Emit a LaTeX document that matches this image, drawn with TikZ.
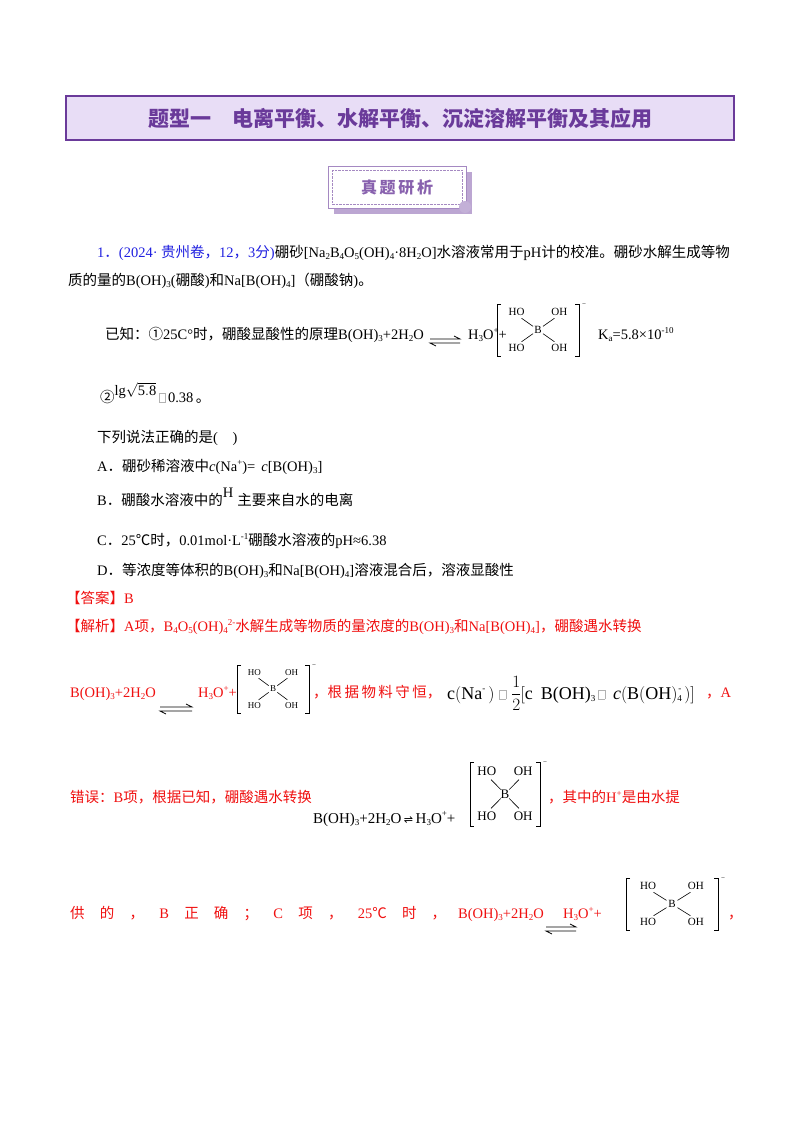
\documentclass[tikz,border=0pt]{standalone}
\usepackage{fontspec}
\setmainfont{Liberation Serif}
\newfontfamily\cjk{Noto Sans CJK SC}
\newfontfamily\latinf{Liberation Serif}
\newfontfamily\dejavu{DejaVu Sans}
\XeTeXinterchartokenstate=1
\newXeTeXintercharclass\cjkclass
\count255="4E00 \loop \XeTeXcharclass\count255=\cjkclass \advance\count255 1 \ifnum\count255<"A000 \repeat
\count255="3000 \loop \XeTeXcharclass\count255=\cjkclass \advance\count255 1 \ifnum\count255<"3040 \repeat
\count255="FF00 \loop \XeTeXcharclass\count255=\cjkclass \advance\count255 1 \ifnum\count255<"FF60 \repeat
\count255="2460 \loop \XeTeXcharclass\count255=\cjkclass \advance\count255 1 \ifnum\count255<"2474 \repeat
\XeTeXcharclass"2103=\cjkclass
\XeTeXinterchartoks 0 \cjkclass={\cjk}
\XeTeXinterchartoks 4095 \cjkclass={\cjk}
\XeTeXinterchartoks \cjkclass 0={\latinf}
\XeTeXinterchartoks \cjkclass 4095={\latinf}
\definecolor{ttl}{HTML}{6A3A9A}
\definecolor{ttlbg}{HTML}{E8DDF6}
\definecolor{blu}{HTML}{2020E0}
\definecolor{rd}{HTML}{F01010}
\newcommand\sbs[1]{\raisebox{-0.35ex}{\fontsize{9}{9}\selectfont #1}}
\newcommand\sps[1]{\raisebox{0.9ex}{\fontsize{9}{9}\selectfont #1}}
\newcommand\gbox{{\color{gray!60}\setlength{\fboxsep}{0pt}\setlength{\fboxrule}{0.4pt}\fbox{\rule{0pt}{9pt}\hspace{6pt}}}}
\newcommand\eqarr[3]{\draw[line width=0.7pt] (#1,#2-2)--(#1+#3,#2-2)--(#1+#3-6,#2-5);
 \draw[line width=0.7pt] (#1+#3,#2+2)--(#1,#2+2)--(#1+6,#2+5);}
\newcommand\borate[5]{\begin{scope}[shift={(#1,#2)},every node/.style={font=\fontsize{#5}{#5}\selectfont,inner sep=0pt,text=black}]
 \pgfmathsetmacro\bw{#3/2}\pgfmathsetmacro\bh{#4/2}
 \draw[line width=0.7pt] (-\bw+4,-\bh)--(-\bw,-\bh)--(-\bw,\bh)--(-\bw+4,\bh);
 \draw[line width=0.7pt] (\bw-4,-\bh)--(\bw,-\bh)--(\bw,\bh)--(\bw-4,\bh);
 \node at (-\bw*0.52,-\bh*0.7) {HO};
 \node at (\bw*0.52,-\bh*0.7) {OH};
 \node at (-\bw*0.52,\bh*0.7) {HO};
 \node at (\bw*0.52,\bh*0.7) {OH};
 \node at (0,0) {B};
 \node at (\bw+5,-\bh+1) {\fontsize{7}{7}\selectfont −};
 \draw[line width=0.6pt] (-\bw*0.4,-\bh*0.45)--(-\bw*0.12,-\bh*0.14);
 \draw[line width=0.6pt] (\bw*0.4,-\bh*0.45)--(\bw*0.12,-\bh*0.14);
 \draw[line width=0.6pt] (-\bw*0.4,\bh*0.45)--(-\bw*0.12,\bh*0.14);
 \draw[line width=0.6pt] (\bw*0.4,\bh*0.45)--(\bw*0.12,\bh*0.14);
\end{scope}}
\tikzset{txt/.style={anchor=base west,inner sep=0pt,font=\fontsize{14.5}{16}\selectfont}}
\begin{document}
\begin{tikzpicture}[x=1pt,y=-1pt]
\useasboundingbox (0,0) rectangle (800,1132);
\fill[white] (0,0) rectangle (800,1132);
% title
\draw[ttl,line width=2pt,fill=ttlbg] (66,96) rectangle (734,140);
\node[text=ttl,font=\cjk\bfseries\fontsize{21}{21}\selectfont] (title) at (400,118) {题型一\quad 电离平衡、水解平衡、沉淀溶解平衡及其应用};
% tag
\fill[ttl!45] (334,172) rectangle (472,214);
\draw[ttl!60,fill=white] (328,166) rectangle (466,208);
\draw[ttl!60,densely dotted] (332,170) rectangle (462,204);
\fill[ttl!40] (465,207) circle (6);
\node[text=ttl!80,font=\cjk\bfseries\fontsize{16}{16}\selectfont] (tag) at (397,187) {真\,题\,研\,析};
% question
\node[txt] (l1) at (97,257) {\textcolor{blu}{1．(2024· 贵州卷，12，3分)}硼砂[Na\sbs{2}B\sbs{4}O\sbs{5}(OH)\sbs{4}·8H\sbs{2}O]水溶液常用于pH计的校准。硼砂水解生成等物};
\node[txt] (l2) at (68,285) {质的量的B(OH)\sbs{3}(硼酸)和Na[B(OH)\sbs{4}]（硼酸钠)。};
\node[txt] (l3) at (105,339) {已知：①25C°时，硼酸显酸性的原理B(OH)\sbs{3}+2H\sbs{2}O};
\eqarr{430}{341}{30}
\node[txt] (h3o1) at (468,339) {H\sbs{3}O\sps{+}+};
\borate{538}{330}{82}{52}{11}
\node[txt] (ka) at (598,339) {K\sbs{a}=5.8×10\sps{-10}};
\node[txt] (l4) at (100,402) {②\raisebox{1ex}{lg$\sqrt{\mathrm{5.8}}$}\,\gbox\,0.38\,。};
\node[txt] (q) at (97,442) {下列说法正确的是(\quad )};
\node[txt] (oa) at (97,471) {A．硼砂稀溶液中\textit{c}(Na\sps{+})=\, \textit{c}[B(OH)\sbs{3}]};
\node[txt] (ob) at (97,505) {B．硼酸水溶液中的\raisebox{1.2ex}{H}\,\sps{\,}主要来自水的电离};
\node[txt] (oc) at (97,545) {C．25℃时，0.01mol·L\sps{-1}硼酸水溶液的pH≈6.38};
\node[txt] (od) at (97,575) {D．等浓度等体积的B(OH)\sbs{3}和Na[B(OH)\sbs{4}]溶液混合后，溶液显酸性};
\node[txt,text=rd] (ans) at (66,603) {【答案】B};
\node[txt,text=rd] (ana) at (66,631) {【解析】A项，B\sbs{4}O\sbs{5}(OH)\sbs{4}\sps{2-}水解生成等物质的量浓度的B(OH)\sbs{3}和Na[B(OH)\sbs{4}]，硼酸遇水转换};
% line with equation 1
\node[txt,text=rd] (e1) at (70,697) {B(OH)\sbs{3}+2H\sbs{2}O};
\eqarr{160}{709}{32}
\node[txt,text=rd] (h3o2) at (198,697) {H\sbs{3}O\sps{+}+};
\borate{273}{689}{72}{48}{9}
\node[txt,text=rd] (wl) at (313,697) {，根\,据\,物\,料\,守\,恒，};
\node[txt,font=\fontsize{18}{20}\selectfont] (ml) at (447,699) {c$\big($Na\sps{-}\,$\big)$\;\gbox\;$\displaystyle\frac{1}{2}$\hspace{-1pt}$\big[$c\;\,B(OH)\sbs{3}\,\gbox\;\,\textit{c}$\Big($B$\big($OH$\big)$\sbs{4}\hspace{-0.2em}\sps{-}\,$\Big)\big]$};
\node[txt,text=rd] (wa) at (706,697) {，A};
% line 2
\node[txt,text=rd] (e2) at (70,802) {错误：B项，根据已知，硼酸遇水转换};
\node[txt,font=\fontsize{15}{16}\selectfont] (e2m) at (313,823) {B(OH)\sbs{3}+2H\sbs{2}O\,{\dejavu\fontsize{11}{11}\selectfont ⇌}\,H\sbs{3}O\sps{+}+};
\borate{505}{794}{70}{64}{13}
\node[txt,text=rd] (e2w) at (548,802) {，其中的H\sps{+}是由水提};
% line 3
\node[txt,text=rd] (e3) at (70,918) {供\hspace{1.05em}的\hspace{1.05em}，\hspace{1.05em}B\hspace{1.05em}正\hspace{1.05em}确\hspace{1.05em}；\hspace{1.05em}C\hspace{1.05em}项\hspace{1.05em}，\hspace{1.05em}25℃\hspace{1.05em}时\hspace{1.05em}，};
\node[txt,text=rd] (e3b) at (458,918) {B(OH)\sbs{3}+2H\sbs{2}O};
\eqarr{546}{929}{30}
\node[txt,text=rd] (h3o3) at (563,918) {H\sbs{3}O\sps{+}+};
\borate{672}{904}{92}{52}{11}
\node[txt,text=rd] (e3e) at (728,918) {，};
\end{tikzpicture}
\end{document}
